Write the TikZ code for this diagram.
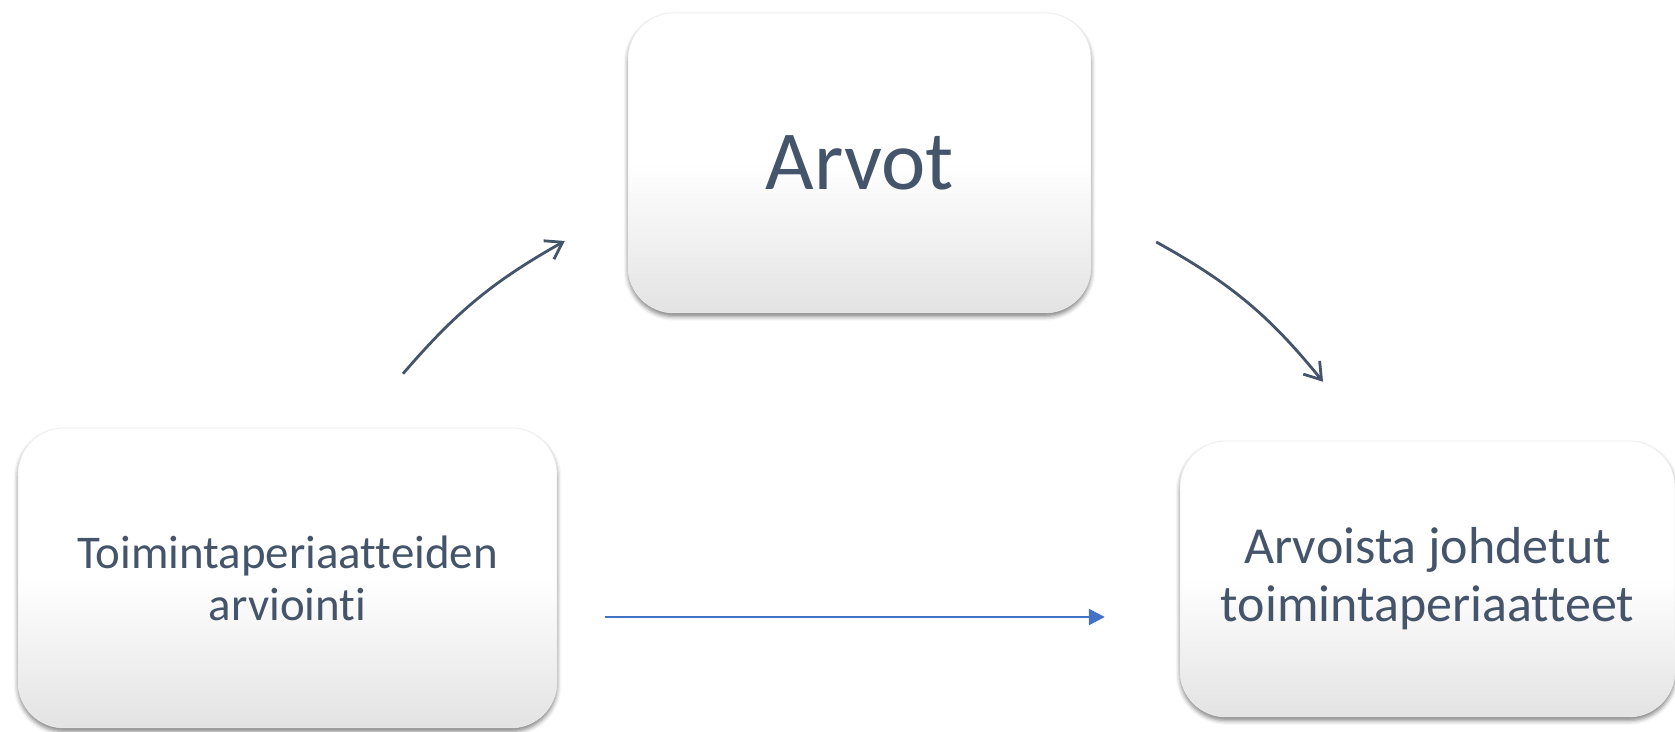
\documentclass[tikz,border=0pt]{standalone}
\usepackage{fontspec}
\setmainfont[Ligatures=NoCommon]{Carlito}
\usetikzlibrary{arrows.meta,shadows.blur}
\definecolor{slate}{HTML}{44546A}
\definecolor{arrowblue}{HTML}{4472C4}

\begin{document}
\begin{tikzpicture}[x=0.02cm, y=0.02cm,
	card/.style={rounded corners=0.92cm,
		draw=black!7, line width=0.3pt,
		top color=white, bottom color=black!11, middle color=white,
		blur shadow={shadow xshift=0pt, shadow yshift=-2pt,
			shadow blur radius=2.5pt, shadow opacity=50},
		text=slate, align=center, inner sep=0pt},
	cycle/.style={draw=slate, line width=1.6pt,
		-{Straight Barb[length=9pt,width=12pt]}},
	flow/.style={draw=arrowblue, line width=1.4pt,
		-{Triangle[length=9pt,width=9pt]}}]
		
		\useasboundingbox (0,0) rectangle (1675,732);
		
		% Values
		\node [card,
		minimum width =9.26cm,
		minimum height =6cm,
		font=\fontsize{47.8pt}{56pt}\selectfont] (arvot) at (859.5,569){Arvot};
		
		% Evaluation
		\node [card,
		minimum width =10.78cm,
		minimum height =6cm,
		font=\fontsize{26.7pt}{29.6pt}\selectfont] (arviointi) at (287.5,154){Toimintaperiaatteiden\\arviointi};
		
		% Derived principles
		\node [card,
		minimum width =9.9cm,
		minimum height =5.52cm,
		font=\fontsize{29.6pt}{33pt}\selectfont] (periaatteet) at (1427.5,153){Arvoista johdetut\\toimintaperiaatteet};
		
		% Cycle arrows
		\draw [cycle] ([shift={(115.5,54)}]arviointi.north) to[bend left=10] ([shift={(-63,-78)}]arvot.west);
		\draw [cycle] ([shift={(65,-79)}]arvot.east) to[bend left=11] ([shift={(-104.5,59)}]periaatteet.north);
		
		%\draw (arviointi) -- (periaatteet);
		\draw [flow] ([shift={(48,-39)}]arviointi.east) -- ([shift={(-75,-38)}]periaatteet.west);
		
	\end{tikzpicture}
\end{document}
